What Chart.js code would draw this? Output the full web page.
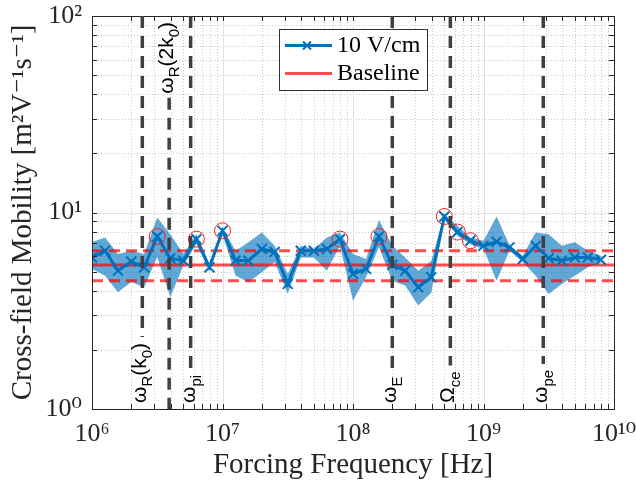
<!DOCTYPE html>
<html>
<head>
<meta charset="utf-8">
<script src="https://cdn.jsdelivr.net/npm/chart.js@4.4.0/dist/chart.umd.min.js"></script>
<style>
  body { margin: 0; background: #fff; }
  #wrap { width: 636px; height: 487px; }
</style>
</head>
<body>
<div id="wrap"><canvas id="mobilityChart" width="636" height="487"></canvas></div>
<script>
// forcing frequencies in Hz (ten per decade)
const freqHz = [
  1.00e6, 1.26e6, 1.58e6, 2.00e6, 2.51e6, 3.16e6, 3.98e6, 5.01e6, 6.31e6, 7.94e6,
  1.00e7, 1.26e7, 1.58e7, 2.00e7, 2.51e7, 3.16e7, 3.98e7, 5.01e7, 6.31e7, 7.94e7,
  1.00e8, 1.26e8, 1.58e8, 2.00e8, 2.51e8, 3.16e8, 3.98e8, 5.01e8, 6.31e8, 7.94e8,
  1.00e9, 1.26e9, 1.58e9, 2.00e9, 2.51e9, 3.16e9, 3.98e9, 5.01e9, 6.31e9, 7.94e9
];
// 10 V/cm cross-field mobility and its spread
const mobility = [
  5.91, 6.39, 5.06, 5.62, 5.26, 7.55, 5.85, 5.69, 7.32, 5.26,
  8.07, 5.69, 5.69, 6.52, 6.30, 4.33, 6.39, 6.39, 6.52, 7.32,
  4.87, 5.16, 7.55, 5.41, 5.06, 4.17, 4.68, 9.54, 7.95, 7.18,
  6.77, 7.10, 6.65, 5.80, 6.77, 5.85, 5.69, 5.91, 5.91, 5.75
];
const mobilityHigh = [
  7.07, 7.47, 6.15, 6.39, 6.15, 9.43, 7.76, 6.15, 7.76, 5.47,
  8.39, 6.39, 7.05, 7.92, 6.77, 4.87, 6.77, 6.52, 7.47, 7.92,
  6.15, 5.80, 9.17, 6.77, 5.91, 5.06, 5.66, 9.80, 8.55, 7.47,
  7.18, 9.54, 6.83, 6.03, 7.92, 7.76, 6.77, 7.05, 6.39, 6.03
];
const mobilityLow = [
  5.16, 4.77, 3.93, 4.43, 4.17, 5.93, 3.71, 5.36, 6.91, 5.06,
  7.76, 4.77, 4.42, 4.96, 5.60, 3.85, 5.91, 5.91, 5.06, 6.77,
  3.56, 4.70, 6.65, 4.50, 4.25, 3.36, 3.90, 9.25, 7.61, 6.91,
  6.52, 4.50, 6.39, 5.58, 4.77, 3.85, 4.33, 4.77, 5.26, 5.58
];
// points marked with a red circle
const circled = [5, 8, 10, 19, 22, 27, 28, 29];

const baseline = 5.41;
const baselineHigh = 6.39;
const baselineLow = 4.50;

const xDecades = [1e6, 1e7, 1e8, 1e9, 1e10];
const xTickLabels = ['10⁶', '10⁷', '10⁸', '10⁹', '10¹⁰'];
const yDecades = [1, 10, 100];
const yTickLabels = ['10⁰', '10¹', '10²'];

// characteristic frequencies (dashed vertical lines)
const markerFreq = [2.43e6, 3.90e6, 5.70e6, 2.0e8, 5.57e8, 2.87e9];
const markerLabel = [
  [['ω', 0], ['R', 1], ['(k', 0], ['0', 1], [')', 0]],
  [['ω', 0], ['R', 1], ['(2k', 0], ['0', 1], [')', 0]],
  [['ω', 0], ['pi', 1]],
  [['ω', 0], ['E', 1]],
  [['Ω', 0], ['ce', 1]],
  [['ω', 0], ['pe', 1]]
];
const markerSide = ['bottom', 'top', 'bottom', 'bottom', 'bottom', 'bottom'];

const SERIF = '"Liberation Serif", "DejaVu Serif", serif';
const MAIN_FONT = '21px "Liberation Sans", Arial, sans-serif';
const SUB_FONT = '15px "Liberation Sans", Arial, sans-serif';
const BLUE = '#0072BD';
const RED = 'rgba(255,0,0,0.7)';

function minorValues(decades) {
  const out = [];
  for (let i = 0; i < decades.length - 1; i++) {
    for (let m = 2; m <= 9; m++) out.push(decades[i] * m);
  }
  return out;
}

function tickLabel(value, decades, labels) {
  for (let i = 0; i < decades.length; i++) {
    if (Math.abs(value / decades[i] - 1) < 1e-9) return labels[i];
  }
  return '';
}

const pts = (ys) => freqHz.map((f, i) => ({ x: f, y: ys[i] }));
const flat = (v) => [{ x: xDecades[0], y: v }, { x: xDecades[xDecades.length - 1], y: v }];

// grid, box and inward tick marks, MATLAB style
const axesBox = {
  id: 'axesBox',
  beforeDatasetsDraw(chart) {
    const { ctx, chartArea: a, scales: { x, y } } = chart;
    ctx.save();
    ctx.lineWidth = 1;
    // minor grid
    ctx.strokeStyle = '#c8c8c8';
    ctx.setLineDash([1, 2]);
    minorValues(xDecades).forEach(v => {
      const px = Math.round(x.getPixelForValue(v)) + 0.5;
      ctx.beginPath(); ctx.moveTo(px, a.top); ctx.lineTo(px, a.bottom); ctx.stroke();
    });
    minorValues(yDecades).forEach(v => {
      const py = Math.round(y.getPixelForValue(v)) + 0.5;
      ctx.beginPath(); ctx.moveTo(a.left, py); ctx.lineTo(a.right, py); ctx.stroke();
    });
    // major grid
    ctx.setLineDash([]);
    ctx.strokeStyle = '#e2e2e2';
    xDecades.forEach(v => {
      const px = Math.round(x.getPixelForValue(v)) + 0.5;
      ctx.beginPath(); ctx.moveTo(px, a.top); ctx.lineTo(px, a.bottom); ctx.stroke();
    });
    yDecades.forEach(v => {
      const py = Math.round(y.getPixelForValue(v)) + 0.5;
      ctx.beginPath(); ctx.moveTo(a.left, py); ctx.lineTo(a.right, py); ctx.stroke();
    });
    ctx.restore();
  },
  afterDatasetsDraw(chart) {
    const { ctx, chartArea: a, scales: { x, y } } = chart;
    ctx.save();
    ctx.strokeStyle = '#262626';
    ctx.lineWidth = 1;
    const tl = 5;
    xDecades.concat(minorValues(xDecades)).forEach(v => {
      const px = Math.round(x.getPixelForValue(v)) + 0.5;
      ctx.beginPath();
      ctx.moveTo(px, a.bottom); ctx.lineTo(px, a.bottom - tl);
      ctx.moveTo(px, a.top); ctx.lineTo(px, a.top + tl);
      ctx.stroke();
    });
    yDecades.concat(minorValues(yDecades)).forEach(v => {
      const py = Math.round(y.getPixelForValue(v)) + 0.5;
      ctx.beginPath();
      ctx.moveTo(a.left, py); ctx.lineTo(a.left + tl, py);
      ctx.moveTo(a.right, py); ctx.lineTo(a.right - tl, py);
      ctx.stroke();
    });
    ctx.strokeRect(Math.round(a.left) + 0.5, Math.round(a.top) + 0.5,
      Math.round(a.right - a.left), Math.round(a.bottom - a.top));
    ctx.restore();
  }
};

function labelWidth(ctx, parts) {
  let w = 0;
  parts.forEach(([t, sub]) => { ctx.font = sub ? SUB_FONT : MAIN_FONT; w += ctx.measureText(t).width; });
  return w;
}

function drawLabel(ctx, x, yStart, parts) {
  ctx.save();
  ctx.translate(x, yStart);
  ctx.rotate(-Math.PI / 2);
  ctx.fillStyle = '#000';
  ctx.textBaseline = 'alphabetic';
  let pos = 0;
  parts.forEach(([t, sub]) => {
    ctx.font = sub ? SUB_FONT : MAIN_FONT;
    ctx.fillText(t, pos, sub ? 10 : 4);
    pos += ctx.measureText(t).width;
  });
  ctx.restore();
}

const xLines = {
  id: 'xLines',
  afterDatasetsDraw(chart) {
    const { ctx, chartArea: a, scales: { x } } = chart;
    markerFreq.forEach((f, i) => {
      const px = x.getPixelForValue(f);
      const w = labelWidth(ctx, markerLabel[i]);
      let y0 = a.top, y1 = a.bottom, start;
      if (markerSide[i] === 'bottom') {
        start = a.bottom - 6;
        y1 = start - w - 6;
      } else {
        start = a.top + 6 + w;
        y0 = start + 4;
      }
      ctx.save();
      ctx.strokeStyle = '#404040';
      ctx.lineWidth = 3.5;
      ctx.setLineDash([12, 8]);
      ctx.beginPath(); ctx.moveTo(px, y0); ctx.lineTo(px, y1); ctx.stroke();
      ctx.restore();
      drawLabel(ctx, px, start, markerLabel[i]);
    });
  }
};

const legendBox = {
  id: 'legendBox',
  afterDraw(chart) {
    const ctx = chart.ctx;
    ctx.save();
    ctx.fillStyle = '#fff';
    ctx.fillRect(279, 29, 148, 61);
    ctx.strokeStyle = '#333';
    ctx.lineWidth = 1;
    ctx.strokeRect(279.5, 29.5, 148, 61);
    ctx.lineWidth = 3;
    ctx.strokeStyle = BLUE;
    ctx.beginPath(); ctx.moveTo(285, 45.5); ctx.lineTo(332, 45.5); ctx.stroke();
    ctx.lineWidth = 2;
    ctx.beginPath();
    ctx.moveTo(303, 41.5); ctx.lineTo(311, 49.5);
    ctx.moveTo(303, 49.5); ctx.lineTo(311, 41.5);
    ctx.stroke();
    ctx.lineWidth = 3;
    ctx.strokeStyle = RED;
    ctx.beginPath(); ctx.moveTo(285, 73.5); ctx.lineTo(332, 73.5); ctx.stroke();
    ctx.fillStyle = '#000';
    ctx.font = '24px ' + SERIF;
    ctx.textBaseline = 'middle';
    ctx.fillText('10 V/cm', 337, 46);
    ctx.fillText('Baseline', 337, 74);
    ctx.restore();
  }
};

new Chart(document.getElementById('mobilityChart'), {
  type: 'line',
  data: {
    datasets: [
      {
        label: 'circled',
        data: circled.map(i => ({ x: freqHz[i], y: mobility[i] })),
        showLine: false,
        pointStyle: 'circle',
        pointRadius: 8,
        pointBorderWidth: 1,
        pointBorderColor: '#ee2020',
        pointBackgroundColor: 'rgba(0,0,0,0)',
        order: 0
      },
      {
        label: '10 V/cm',
        data: pts(mobility),
        borderColor: BLUE,
        borderWidth: 3,
        pointStyle: 'crossRot',
        pointRadius: 7,
        pointBorderWidth: 2,
        pointBorderColor: BLUE,
        tension: 0,
        order: 1
      },
      { label: 'Baseline', data: flat(baseline), borderColor: RED, borderWidth: 3, pointRadius: 0, order: 2 },
      { label: 'Baseline high', data: flat(baselineHigh), borderColor: RED, borderWidth: 3, borderDash: [11, 6], pointRadius: 0, order: 2 },
      { label: 'Baseline low', data: flat(baselineLow), borderColor: RED, borderWidth: 3, borderDash: [11, 6], pointRadius: 0, order: 2 },
      {
        label: 'spread high',
        data: pts(mobilityHigh),
        borderWidth: 0,
        pointRadius: 0,
        fill: '+1',
        backgroundColor: 'rgba(0,114,189,0.62)',
        tension: 0,
        order: 3
      },
      { label: 'spread low', data: pts(mobilityLow), borderWidth: 0, pointRadius: 0, fill: false, tension: 0, order: 3 }
    ]
  },
  options: {
    responsive: false,
    animation: false,
    devicePixelRatio: 1,
    layout: { padding: { top: 16, right: 22, left: 0, bottom: 0 } },
    plugins: { legend: { display: false }, tooltip: { enabled: false } },
    scales: {
      x: {
        type: 'logarithmic',
        min: 1e6,
        max: 1e10,
        afterFit(scale) {
          scale.height = 78;
          scale.paddingLeft = 0;
          scale.paddingRight = 0;
        },
        afterBuildTicks(scale) {
          scale.ticks = xDecades.concat(minorValues(xDecades)).sort((p, q) => p - q).map(v => ({ value: v }));
        },
        grid: { display: false, drawTicks: false },
        border: { display: false },
        ticks: {
          autoSkip: false,
          maxRotation: 0,
          padding: 10,
          color: '#262626',
          font: { family: SERIF, size: 26 },
          callback: (v) => tickLabel(v, xDecades, xTickLabels)
        },
        title: {
          display: true,
          text: 'Forcing Frequency [Hz]',
          color: '#262626',
          font: { family: SERIF, size: 29 },
          padding: { top: 8 }
        }
      },
      y: {
        type: 'logarithmic',
        min: 1,
        max: 100,
        afterFit(scale) {
          scale.width = 92;
          scale.paddingTop = 0;
          scale.paddingBottom = 0;
        },
        afterBuildTicks(scale) {
          scale.ticks = yDecades.concat(minorValues(yDecades)).sort((p, q) => p - q).map(v => ({ value: v }));
        },
        grid: { display: false, drawTicks: false },
        border: { display: false },
        ticks: {
          autoSkip: false,
          padding: 10,
          color: '#262626',
          font: { family: SERIF, size: 26 },
          callback: (v) => tickLabel(v, yDecades, yTickLabels)
        },
        title: {
          display: true,
          text: 'Cross-field Mobility [m²V⁻¹s⁻¹]',
          color: '#262626',
          font: { family: SERIF, size: 29 },
          padding: { top: 6 }
        }
      }
    }
  },
  plugins: [axesBox, xLines, legendBox]
});
</script>
</body>
</html>
